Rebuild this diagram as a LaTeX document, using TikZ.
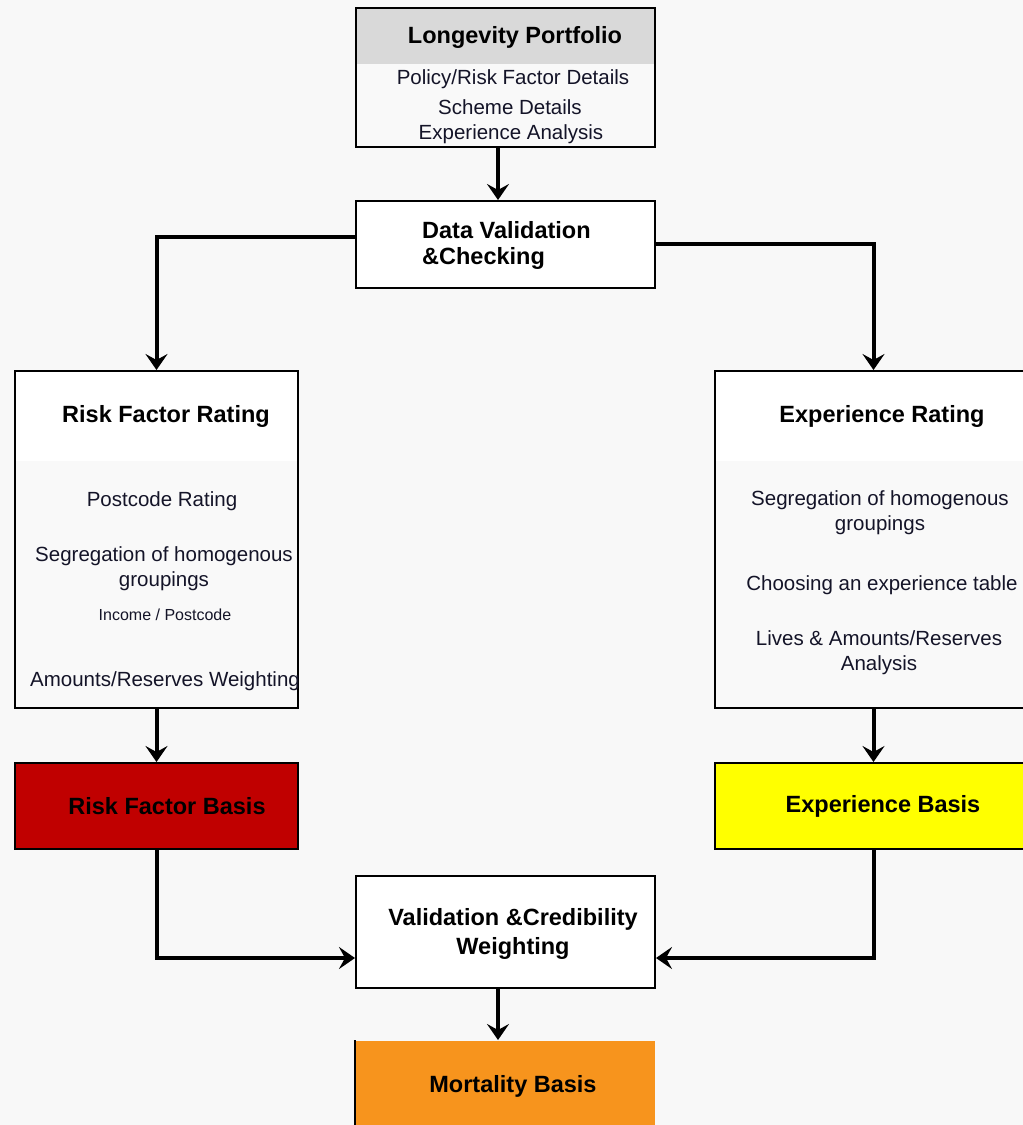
\documentclass[tikz,border=0pt]{standalone}
\usepackage{fontspec}
\setmainfont{Liberation Sans}
\usetikzlibrary{arrows.meta}
\definecolor{bg}{RGB}{248,248,248}
\definecolor{hdr}{RGB}{217,217,217}
\definecolor{bodyfill}{RGB}{249,249,249}
\definecolor{rfred}{RGB}{192,0,0}
\definecolor{exyel}{RGB}{255,255,0}
\definecolor{morange}{RGB}{247,148,29}
\definecolor{txt}{RGB}{20,20,40}
\tikzset{tipstyle/.tip={Stealth[length=16pt,width=22pt,inset=6pt]}}
\begin{document}
\begin{tikzpicture}[x=1pt,y=-1pt,
  box/.style={draw=black, line width=2pt, inner sep=0pt, anchor=north west},
  conn/.style={line width=4pt, -tipstyle},
  ttl/.style={font=\fontsize{23.5}{29}\selectfont\bfseries, text=black, inner sep=0pt, align=center},
  btxt/.style={font=\fontsize{20.5}{25}\selectfont, text=txt, inner sep=0pt, align=center},
  stxt/.style={font=\fontsize{16}{20}\selectfont, text=txt, inner sep=0pt, align=center}]
\fill[bg] (0,0) rectangle (1023,1125);
\useasboundingbox (0,0) rectangle (1023,1125);

% Longevity Portfolio
\node[box, fill=bodyfill, minimum width=299pt, minimum height=139pt,
  path picture={\fill[hdr] (path picture bounding box.north west) rectangle ([yshift=-56pt]path picture bounding box.north east);}]
  (lp) at (355,7) {};
\node[ttl] (lpt) at (515,37) {Longevity Portfolio};
\node[btxt] (lp1) at (513,79) {Policy/Risk Factor Details};
\node[btxt] (lp2) at (510,107) {Scheme Details};
\node[btxt] (lp3) at (511,134) {Experience Analysis};

% Data validation
\node[box, fill=white, minimum width=299pt, minimum height=87pt] (dv) at (355,200) {};
\node[ttl, anchor=west, align=left, font=\fontsize{23.5}{26}\selectfont\bfseries] (dvt) at (422,245) {Data Validation\\\&Checking};

% Risk factor rating
\node[box, fill=bodyfill, minimum width=283pt, minimum height=337pt,
  path picture={\fill[white] (path picture bounding box.north west) rectangle ([yshift=-90pt]path picture bounding box.north east);}]
  (rfr) at (14,370) {};
\node[ttl] (rfrt) at (166,416) {Risk Factor Rating};
\node[btxt] (rf1) at (162,501) {Postcode Rating};
\node[btxt] (rf2) at (164,569) {Segregation of homogenous\\groupings};
\node[stxt] (rf3) at (165,615) {Income / Postcode};
\node[btxt] (rf4) at (165,681) {Amounts/Reserves Weighting};

% Experience rating
\node[box, fill=bodyfill, minimum width=317pt, minimum height=337pt,
  path picture={\fill[white] (path picture bounding box.north west) rectangle ([yshift=-90pt]path picture bounding box.north east);}]
  (exr) at (714,370) {};
\node[ttl] (exrt) at (882,416) {Experience Rating};
\node[btxt] (ex1) at (880,513) {Segregation of homogenous\\groupings};
\node[btxt] (ex2) at (882,585) {Choosing an experience table};
\node[btxt] (ex3) at (879,653) {Lives \& Amounts/Reserves\\Analysis};

% Bases
\node[box, fill=rfred, minimum width=283pt, minimum height=86pt] (rfb) at (14,762) {};
\node[ttl] (rfbt) at (167,806) {Risk Factor Basis};
\node[box, fill=exyel, minimum width=317pt, minimum height=86pt] (exb) at (714,762) {};
\node[ttl] (exbt) at (883,806) {Experience Basis};

% Validation & credibility
\node[box, fill=white, minimum width=299pt, minimum height=112pt] (val) at (355,875) {};
\node[ttl] (valt) at (513,934) {Validation \&Credibility\\Weighting};

% Mortality basis
\node[box, draw=none, fill=morange, minimum width=299pt, minimum height=100pt] (mb) at (355,1040) {};
\draw[line width=2pt] (mb.south west) -- (mb.north west);
\node[ttl] (mbt) at (513,1086) {Mortality Basis};

% Connectors
\draw[conn] ([xshift=-7.5pt]lp.south) -- ([xshift=-7.5pt]dv.north);
\draw[conn] ([yshift=8pt]dv.west) -| (rfr.north);
\draw[conn] ([yshift=1pt]dv.east) -| (exr.north);
\draw[conn] (rfr.south) -- (rfb.north);
\draw[conn] (exr.south) -- (exb.north);
\draw[conn] (rfb.south) |- ([yshift=-26pt]val.west);
\draw[conn] (exb.south) |- ([yshift=-26pt]val.east);
\draw[conn] ([xshift=-7.5pt]val.south) -- ([xshift=-7.5pt]mb.north);
\end{tikzpicture}
\end{document}
